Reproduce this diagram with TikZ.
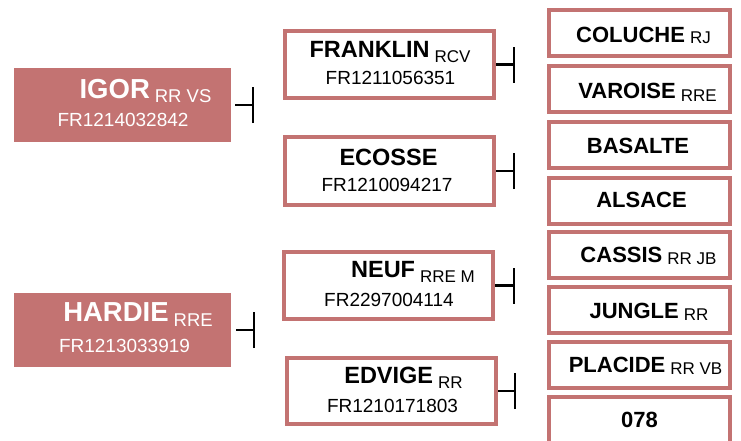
\documentclass[tikz,border=0pt]{standalone}
\usepackage{fontspec}
\setmainfont{Liberation Sans}
\definecolor{rosebox}{RGB}{195,115,114}
\newcommand{\leftname}{\fontsize{27.5}{27.5}\selectfont\bfseries}
\newcommand{\midname}{\fontsize{23.5}{23.5}\selectfont\bfseries}
\newcommand{\rightname}{\fontsize{22}{22}\selectfont\bfseries}
\newcommand{\gsub}[2][3pt]{\hspace{5pt}\raisebox{-#1}{\fontsize{17}{17}\selectfont\mdseries #2}}
\newcommand{\gbigsub}[2][3pt]{\hspace{5pt}\raisebox{-#1}{\fontsize{18.5}{18.5}\selectfont\mdseries #2}}
\tikzset{
  sirebox/.style={fill=rosebox, minimum width=217pt, minimum height=74pt, inner sep=0pt},
  parentbox/.style={draw=rosebox, line width=4pt, fill=white, minimum width=209pt, minimum height=67pt, inner sep=0pt},
  grandbox/.style={draw=rosebox, line width=4pt, fill=white, minimum width=181pt, minimum height=46pt, inner sep=0pt},
  namelbl/.style={anchor=base, inner sep=0pt},
  idlbl/.style={anchor=base, inner sep=0pt, font=\fontsize{19}{19}\selectfont},
  bar/.style={line width=2.2pt}
}
\begin{document}
\begin{tikzpicture}[x=1pt,y=-1pt]
  \useasboundingbox (0,0) rectangle (741,440);
  % left boxes
  \node[sirebox] (igor) at (122.5,105) {};
  \node[namelbl, white, font=\leftname] (igorname) at (145.5,98) {IGOR\gbigsub[4pt]{RR VS}};
  \node[idlbl, white] (igorid) at (123,126) {FR1214032842};
  \node[sirebox] (hardie) at (122.5,330) {};
  \node[namelbl, white, font=\leftname] (hardiename) at (138,321) {HARDIE\gbigsub[5pt]{RRE}};
  \node[idlbl, white] (hardieid) at (124.5,352) {FR1213033919};
  % middle boxes
  \node[parentbox] (franklin) at (389.5,64.5) {};
  \node[namelbl, font=\midname] (franklinname) at (390,57) {FRANKLIN\gsub[5pt]{RCV}};
  \node[idlbl] (franklinid) at (390.5,84) {FR1211056351};
  \node[parentbox, minimum height=68pt] (ecosse) at (389.5,171) {};
  \node[namelbl, font=\midname] (ecossename) at (388.5,165) {ECOSSE};
  \node[idlbl] (ecosseid) at (387,191) {FR1210094217};
  \node[parentbox] (neuf) at (388.5,285.5) {};
  \node[namelbl, font=\midname] (neufname) at (413,277) {NEUF\gsub[5pt]{RRE M}};
  \node[idlbl] (neufid) at (389,306) {FR2297004114};
  \node[parentbox, minimum height=66pt] (edvige) at (391.5,391) {};
  \node[namelbl, font=\midname] (edvigename) at (403.5,383) {EDVIGE\gsub[5pt]{RR}};
  \node[idlbl] (edvigeid) at (392.5,412) {FR1210171803};
  % right boxes
  \node[grandbox] (coluche) at (639.5,33) {};
  \node[namelbl, font=\rightname] (coluchename) at (643.5,42) {COLUCHE\gsub[1pt]{RJ}};
  \node[grandbox] (varoise) at (639.5,89) {};
  \node[namelbl, font=\rightname] (varoisename) at (647.5,98) {VAROISE\gsub[3pt]{RRE}};
  \node[grandbox] (basalte) at (639.5,145) {};
  \node[namelbl, font=\rightname] (basaltename) at (638,153) {BASALTE};
  \node[grandbox] (alsace) at (639.5,200.5) {};
  \node[namelbl, font=\rightname] (alsacename) at (641.5,207) {ALSACE};
  \node[grandbox] (cassis) at (639.5,255) {};
  \node[namelbl, font=\rightname] (cassisname) at (648.5,262) {CASSIS\gsub[2pt]{RR JB}};
  \node[grandbox] (jungle) at (639.5,310) {};
  \node[namelbl, font=\rightname] (junglename) at (649,318) {JUNGLE\gsub[2pt]{RR}};
  \node[grandbox] (placide) at (639.5,364.5) {};
  \node[namelbl, font=\rightname] (placidename) at (645.5,372) {PLACIDE\gsub[2pt]{RR VB}};
  \node[grandbox] (nsoixantedixhuit) at (639.5,420) {};
  \node[namelbl, font=\rightname] (nsoixantedixhuitname) at (639.5,427) {078};
  % connectors
  \coordinate (igorbar) at (253,105);
  \draw[bar, shorten <=4pt] (igor.east) -- (igorbar);
  \draw[bar] ([yshift=-18pt]igorbar) -- ([yshift=18pt]igorbar);
  \coordinate (hardiebar) at (254,330);
  \draw[bar, shorten <=5pt] (hardie.east) -- (hardiebar);
  \draw[bar] ([yshift=-18pt]hardiebar) -- ([yshift=18pt]hardiebar);
  \coordinate (franklinbar) at (514,64.5);
  \draw[bar] (franklin.east) -- (franklinbar);
  \draw[bar] ([yshift=-18pt]franklinbar) -- ([yshift=18pt]franklinbar);
  \coordinate (ecossebar) at (514,171);
  \draw[bar] (ecosse.east) -- (ecossebar);
  \draw[bar] ([yshift=-18pt]ecossebar) -- ([yshift=18pt]ecossebar);
  \coordinate (neufbar) at (514,285.5);
  \draw[bar] (neuf.east) -- (neufbar);
  \draw[bar] ([yshift=-18pt]neufbar) -- ([yshift=18pt]neufbar);
  \coordinate (edvigebar) at (515,391);
  \draw[bar] (edvige.east) -- (edvigebar);
  \draw[bar] ([yshift=-18pt]edvigebar) -- ([yshift=18pt]edvigebar);
\end{tikzpicture}
\end{document}
